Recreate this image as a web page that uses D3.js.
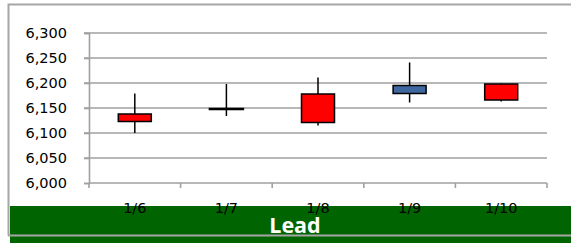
<!DOCTYPE html>
<html>
<head>
<meta charset="utf-8">
<script src="https://cdn.jsdelivr.net/npm/d3@7"></script>
<style>
  body { margin:0; background:#fff; }
  svg { display:block; font-family:"DejaVu Sans", "Noto Sans", sans-serif; }
</style>
</head>
<body>
<div id="chart_container"></div>
<script>
// Candles.
var dates      = ["1/6", "1/7", "1/8", "1/9", "1/10"];
var open_arr   = [6138, 6148, 6178, 6179, 6198];
var high_arr   = [6179, 6198, 6211, 6241, 6199];
var low_arr    = [6100, 6134, 6115, 6161, 6163];
var close_arr  = [6123, 6148, 6121, 6195, 6166];
var y_ticks    = [6000, 6050, 6100, 6150, 6200, 6250, 6300];
var title_text = "Lead";

var dim = { width:571, height:243 };
var plot = { left:89, right:547, top:33, bottom:183 };

var svg = d3.select("#chart_container").append("svg")
  .attr("width", dim.width)
  .attr("height", dim.height);

var x = d3.scaleBand().domain(dates).range([plot.left, plot.right]);
var y = d3.scaleLinear().domain([6000, 6300]).range([plot.bottom, plot.top]);

// Chart frame (right edge falls outside the picture).
svg.append("path")
  .attr("d", "M8.5,235.5V4.5H575")
  .style("fill", "none")
  .style("stroke", "#a6a6a6")
  .style("stroke-width", 2);

// Gridlines.
svg.selectAll(".grid").data(y_ticks.slice(1)).enter().append("line")
  .attr("class", "grid")
  .attr("x1", plot.left - 5)
  .attr("x2", plot.right)
  .attr("y1", function (d) { return y(d); })
  .attr("y2", function (d) { return y(d); })
  .style("stroke", "#a0a0a0")
  .style("stroke-width", 1.6);

// Y axis.
var y_axis = svg.append("g")
  .attr("transform", "translate(" + plot.left + ",0)")
  .call(d3.axisLeft(y).tickValues(y_ticks).tickSize(5).tickPadding(17).tickFormat(d3.format(",")));
y_axis.attr("font-family", null);
y_axis.selectAll("path, line").style("stroke", "#a0a0a0").style("stroke-width", 1.6);
y_axis.selectAll("text").style("font-size", "14.5px").style("fill", "#000");

// X axis.
var x_axis = svg.append("g")
  .attr("transform", "translate(0," + plot.bottom + ")");
x_axis.append("line")
  .attr("x1", plot.left).attr("x2", plot.right)
  .style("stroke", "#a0a0a0").style("stroke-width", 1.6);
x_axis.selectAll(".xtick").data(dates.concat(["end"])).enter().append("line")
  .attr("class", "xtick")
  .attr("x1", function (d, i) { return i < dates.length ? x(d) : plot.right; })
  .attr("x2", function (d, i) { return i < dates.length ? x(d) : plot.right; })
  .attr("y1", 0).attr("y2", 5)
  .style("stroke", "#a0a0a0").style("stroke-width", 1.6);

// Green title band.
svg.append("rect")
  .attr("x", 10).attr("y", 206)
  .attr("width", dim.width - 10).attr("height", dim.height - 206)
  .style("fill", "#006400");
svg.append("line")
  .attr("x1", 8).attr("x2", dim.width)
  .attr("y1", 235.5).attr("y2", 235.5)
  .style("stroke", "#a6a6a6").style("stroke-width", 2);

// Category labels.
svg.selectAll(".xlabel").data(dates).enter().append("text")
  .attr("class", "xlabel")
  .attr("x", function (d) { return x(d) + x.bandwidth()/2; })
  .attr("y", 213)
  .attr("text-anchor", "middle")
  .style("font-size", "14.5px")
  .text(function (d) { return d; });

svg.append("text")
  .attr("x", 295).attr("y", 233)
  .attr("text-anchor", "middle")
  .style("font-family", "'Open Sans', sans-serif")
  .style("font-size", "21.5px")
  .style("font-weight", "bold")
  .style("fill", "#fff")
  .text(title_text);

// Candles.
var candle_w = 33;
var candles = svg.selectAll(".candle").data(dates).enter().append("g")
  .attr("class", "candle");
candles.append("line")
  .attr("x1", function (d) { return x(d) + x.bandwidth()/2; })
  .attr("x2", function (d) { return x(d) + x.bandwidth()/2; })
  .attr("y1", function (d, i) { return y(high_arr[i]); })
  .attr("y2", function (d, i) { return y(low_arr[i]); })
  .style("stroke", "#000")
  .style("stroke-width", 1.5);
candles.append("rect")
  .attr("x", function (d) { return x(d) + x.bandwidth()/2 - candle_w/2; })
  .attr("y", function (d, i) { return y(Math.max(open_arr[i], close_arr[i])); })
  .attr("width", candle_w)
  .attr("height", function (d, i) { return Math.max(0.01, Math.abs(y(open_arr[i]) - y(close_arr[i]))); })
  .style("fill", function (d, i) { return close_arr[i] > open_arr[i] ? "#3f68a0" : "#ff0000"; })
  .style("stroke", "#000")
  .style("stroke-width", function (d, i) { return open_arr[i] == close_arr[i] ? 2.5 : 1.5; });
</script>
</body>
</html>
